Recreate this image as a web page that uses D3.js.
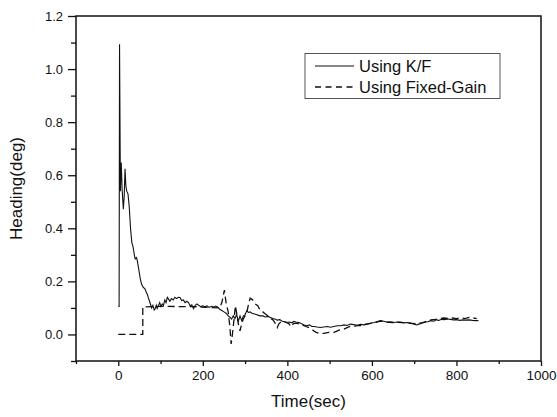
<!DOCTYPE html>
<html><head><meta charset="utf-8">
<script src="https://cdn.jsdelivr.net/npm/d3@7"></script>
<style>
html,body{margin:0;padding:0;background:#fff;}
svg{display:block;font-family:"Liberation Sans",Arial,sans-serif;}
</style></head>
<body>
<svg id="chart" width="557" height="417"></svg>
<script>
// ---- data ----
const seriesNames = ["Using K/F", "Using Fixed-Gain"];
const xMajorTicks = [0, 200, 400, 600, 800, 1000];
const xMinorTicks = [-100, 100, 300, 500, 700, 900];
const yMajorTicks = [0.0, 0.2, 0.4, 0.6, 0.8, 1.0, 1.2];
const yMinorTicks = [-0.1, 0.1, 0.3, 0.5, 0.7, 0.9, 1.1];

const kfTime = [0,2,3,5,7,9,12,14,16,18,20,23,26,29,32,35,38,40,43,45,48,52,55,58,61,63,66,69,71,74,77,79,82,85,87,90,92,95,98,101,104,107,110,113,116,119,122,126,130,134,138,142,146,150,154,158,162,166,170,174,178,182,186,190,195,200,205,210,215,220,225,230,235,240,245,250,255,260,264,268,272,276,280,284,288,292,296,300,304,308,312,316,320,326,332,336,342,348,354,360,366,372,376,382,388,394,399,405,411,415,420,427,434,440,446,452,458,464,470,478,486,494,502,510,518,526,534,541,549,557,565,573,581,589,597,605,612,620,628,636,644,652,660,668,676,684,692,700,706,711,718,725,732,739,746,752,758,765,772,779,786,793,800,808,815,822,830,838,845,852];
const kfHeading = [0.106,0.106,1.094,0.54,0.648,0.55,0.472,0.52,0.624,0.56,0.54,0.53,0.48,0.40,0.347,0.33,0.30,0.285,0.29,0.278,0.25,0.21,0.19,0.18,0.175,0.172,0.16,0.15,0.139,0.125,0.11,0.10,0.11,0.092,0.096,0.11,0.098,0.108,0.12,0.105,0.115,0.11,0.13,0.12,0.14,0.133,0.125,0.135,0.13,0.14,0.135,0.14,0.139,0.128,0.13,0.12,0.125,0.12,0.108,0.112,0.097,0.11,0.115,0.11,0.105,0.108,0.104,0.108,0.102,0.106,0.103,0.107,0.104,0.095,0.09,0.085,0.08,0.07,0.065,0.058,0.07,0.06,0.075,0.05,0.07,0.052,0.07,0.075,0.089,0.083,0.085,0.08,0.078,0.075,0.072,0.07,0.07,0.066,0.068,0.064,0.06,0.057,0.054,0.056,0.05,0.048,0.045,0.047,0.044,0.049,0.047,0.045,0.04,0.036,0.033,0.036,0.03,0.03,0.028,0.026,0.028,0.03,0.027,0.03,0.033,0.033,0.036,0.034,0.039,0.037,0.035,0.038,0.036,0.039,0.042,0.045,0.048,0.052,0.05,0.046,0.048,0.045,0.047,0.046,0.044,0.045,0.043,0.039,0.036,0.039,0.042,0.046,0.048,0.052,0.05,0.055,0.053,0.057,0.056,0.058,0.057,0.055,0.056,0.053,0.055,0.054,0.055,0.053,0.052,0.052];

const fgTime = [0,58,58,100,150,180,210,240,245,251,255,260,264,267,270,274,277,280,284,288,292,296,300,305,309,312,318,324,330,336,342,348,354,360,366,372,376,380,386,392,398,404,408,414,420,428,436,444,452,458,462,468,474,480,486,492,498,504,510,516,522,528,534,540,548,556,565,573,581,590,600,610,620,630,640,650,660,670,680,690,700,710,720,730,740,750,760,770,780,790,800,810,820,830,840,848];
const fgHeading = [0,0,0.104,0.106,0.105,0.105,0.102,0.10,0.12,0.167,0.12,0.085,0.03,-0.036,0.0,0.06,0.108,0.08,0.04,0.014,0.04,0.06,0.07,0.09,0.12,0.137,0.13,0.115,0.108,0.09,0.085,0.077,0.07,0.06,0.055,0.04,0.026,0.04,0.05,0.048,0.045,0.04,0.029,0.04,0.043,0.04,0.035,0.03,0.025,0.02,0.014,0.008,0.005,0.004,0.004,0.006,0.008,0.008,0.008,0.012,0.016,0.018,0.02,0.025,0.03,0.03,0.033,0.033,0.038,0.04,0.043,0.046,0.05,0.048,0.046,0.045,0.046,0.045,0.043,0.042,0.041,0.042,0.045,0.05,0.055,0.057,0.06,0.062,0.06,0.062,0.06,0.063,0.06,0.064,0.062,0.06];

// ---- layout ----
const svg = d3.select("#chart");
const L = 76, R = 541, T = 16, B = 361;
const x = d3.scaleLinear().domain([-100, 1000]).range([L, R]);
const y = d3.scaleLinear().domain([-0.1, 1.2]).range([B, T]);
const ink = "#111";

// lines
const kfData = kfTime.map((t, i) => [t, kfHeading[i]]);
const fgData = fgTime.map((t, i) => [t, fgHeading[i]]);
const line = d3.line().x(d => x(d[0])).y(d => y(d[1]));

svg.append("path").datum(fgData).attr("d", line)
  .attr("fill", "none").attr("stroke", ink).attr("stroke-width", 1.3)
  .attr("stroke-dasharray", "7,4");
svg.append("path").datum(kfData).attr("d", line)
  .attr("fill", "none").attr("stroke", ink).attr("stroke-width", 1.1);

// axes
const axL = d3.axisLeft(y).tickValues(yMajorTicks).tickSize(8).tickPadding(5).tickFormat(d3.format(".1f"));
const axLm = d3.axisLeft(y).tickValues(yMinorTicks).tickSize(5).tickFormat("");
const axB = d3.axisBottom(x).tickValues(xMajorTicks).tickSize(5).tickPadding(4).tickFormat(d3.format("d"));
const axBm = d3.axisBottom(x).tickValues(xMinorTicks).tickSize(3).tickFormat("");

function style(g, fs) {
  g.select(".domain").remove();
  g.selectAll("line").attr("stroke", ink).attr("stroke-width", 1.3);
  g.selectAll("text").attr("fill", ink).style("font-size", fs + "px")
    .style("font-family", '"Liberation Sans",Arial,sans-serif');
}
svg.append("g").attr("transform", `translate(${L},0)`).call(axL).call(g => style(g, 13));
svg.append("g").attr("transform", `translate(${L},0)`).call(axLm).call(g => style(g, 13));
svg.append("g").attr("transform", `translate(0,${B})`).call(axB).call(g => style(g, 13.5));
svg.append("g").attr("transform", `translate(0,${B})`).call(axBm).call(g => style(g, 13.5));

// frame
svg.append("rect").attr("x", L).attr("y", T).attr("width", R - L).attr("height", B - T)
  .attr("fill", "none").attr("stroke", ink).attr("stroke-width", 1.5);

// axis titles
svg.append("text").attr("x", (L + R) / 2).attr("y", 407).attr("text-anchor", "middle")
  .attr("fill", ink).style("font-size", "17px").text("Time(sec)");
svg.append("text").attr("transform", `translate(22,${(T + B) / 2}) rotate(-90)`)
  .attr("text-anchor", "middle").attr("fill", ink).style("font-size", "17px").text("Heading(deg)");

// legend
const lg = svg.append("g");
lg.append("rect").attr("x", 305).attr("y", 53.5).attr("width", 195).attr("height", 45)
  .attr("fill", "#fff").attr("stroke", "#555").attr("stroke-width", 1);
const rowsY = [66, 87];
seriesNames.forEach((name, i) => {
  lg.append("line").attr("x1", 315).attr("x2", 354).attr("y1", rowsY[i]).attr("y2", rowsY[i])
    .attr("stroke", ink).attr("stroke-width", i === 0 ? 1.1 : 1.3)
    .attr("stroke-dasharray", i === 0 ? null : "6,4.5");
  lg.append("text").attr("x", 359).attr("y", rowsY[i] + 6).attr("fill", ink)
    .style("font-size", "16.5px").text(name);
});
</script>
</body></html>
